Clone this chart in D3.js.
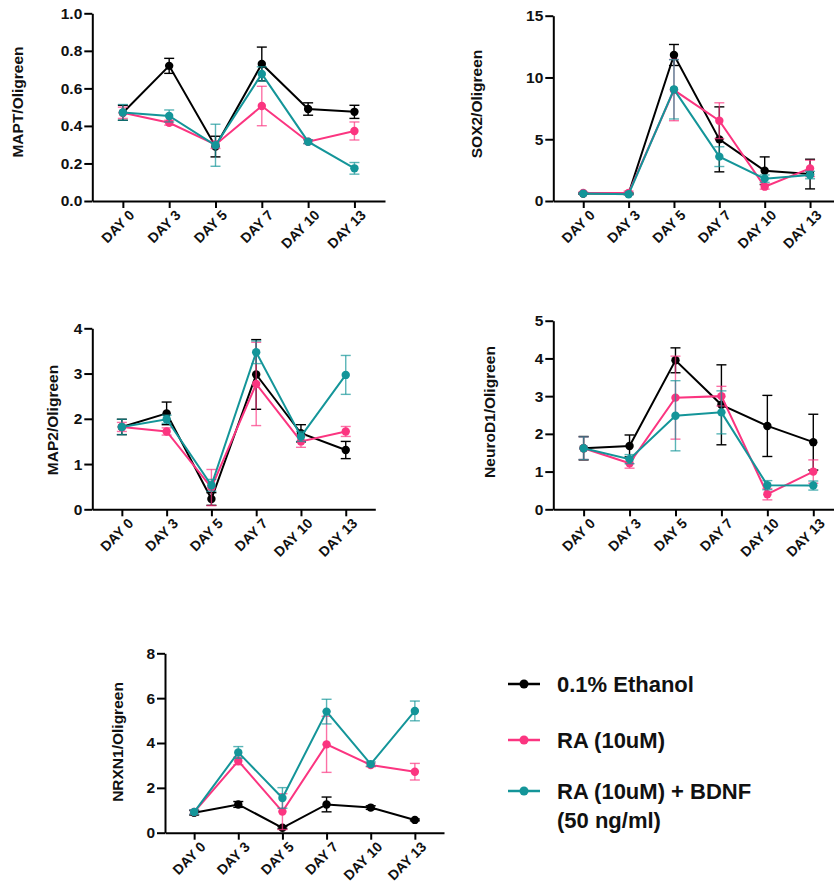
<!DOCTYPE html>
<html>
<head>
<meta charset="utf-8">
<script src="https://cdn.jsdelivr.net/npm/d3@7"></script>
<style>
  body { margin: 0; background: #fff; }
  svg { font-family: "Liberation Sans", Arial, sans-serif; font-weight: bold; }
</style>
</head>
<body>
<svg id="chart" width="834" height="883"></svg>
<script>
// days sampled
const days = ["DAY 0", "DAY 3", "DAY 5", "DAY 7", "DAY 10", "DAY 13"];
const seriesNames = ["0.1% Ethanol", "RA (10uM)", "RA (10uM) + BDNF"];

// MAPT
const maptEth = [0.47, 0.72, 0.29, 0.73, 0.49, 0.475];
const maptEthErr = [0.04, 0.04, 0.055, 0.09, 0.033, 0.035];
const maptRA = [0.47, 0.417, 0.30, 0.506, 0.316, 0.373];
const maptRAErr = [0.03, 0.013, 0.02, 0.105, 0.01, 0.048];
const maptBDNF = [0.472, 0.453, 0.297, 0.677, 0.316, 0.174];
const maptBDNFErr = [0.042, 0.032, 0.112, 0.038, 0.01, 0.031];

// SOX2
const sox2Eth = [0.6, 0.6, 11.82, 4.99, 2.45, 2.18];
const sox2EthErr = [0.05, 0.05, 0.85, 2.63, 1.12, 1.2];
const sox2RA = [0.65, 0.65, 8.98, 6.5, 1.16, 2.64];
const sox2RAErr = [0.08, 0.15, 2.48, 1.45, 0.2, 0.66];
const sox2BDNF = [0.6, 0.55, 9.04, 3.59, 1.81, 2.1];
const sox2BDNFErr = [0.05, 0.05, 2.4, 0.8, 0.3, 0.3];

// MAP2
const map2Eth = [1.82, 2.12, 0.228, 2.98, 1.68, 1.31];
const map2EthErr = [0.17, 0.25, 0.14, 0.77, 0.19, 0.19];
const map2RA = [1.82, 1.72, 0.48, 2.77, 1.5, 1.72];
const map2RAErr = [0.1, 0.08, 0.4, 0.92, 0.13, 0.11];
const map2BDNF = [1.82, 1.99, 0.53, 3.47, 1.61, 2.97];
const map2BDNFErr = [0.17, 0.09, 0.13, 0.25, 0.11, 0.43];

// NeuroD1
const neuroEth = [1.62, 1.68, 3.95, 2.77, 2.21, 1.78];
const neuroEthErr = [0.31, 0.29, 0.33, 1.06, 0.81, 0.74];
const neuroRA = [1.62, 1.22, 2.96, 3.0, 0.40, 1.0];
const neuroRAErr = [0.3, 0.13, 1.1, 0.26, 0.15, 0.31];
const neuroBDNF = [1.62, 1.33, 2.48, 2.57, 0.64, 0.63];
const neuroBDNFErr = [0.3, 0.12, 0.93, 0.57, 0.12, 0.12];

// NRXN1
const nrxnEth = [0.89, 1.26, 0.22, 1.26, 1.12, 0.57];
const nrxnEthErr = [0.1, 0.13, 0.05, 0.33, 0.08, 0.04];
const nrxnRA = [0.92, 3.2, 0.94, 3.94, 3.02, 2.72];
const nrxnRAErr = [0.1, 0.17, 0.8, 1.25, 0.08, 0.37];
const nrxnBDNF = [0.92, 3.58, 1.55, 5.4, 3.06, 5.43];
const nrxnBDNFErr = [0.1, 0.26, 0.46, 0.55, 0.1, 0.44];

const colors = ["#000000", "#fb3580", "#149599"];

const svg = d3.select("#chart");

// panel layout (pixel boxes)
const panels = [
  { label: "MAPT/Oligreen", x0: 92.3, x1: 385, yTop: 13.3, yBot: 201, max: 1, ticks: [0, 0.2, 0.4, 0.6, 0.8, 1.0], fmt: d3.format(".1f"), lx: 18, ly: 102,
    means: [maptEth, maptRA, maptBDNF], errs: [maptEthErr, maptRAErr, maptBDNFErr] },
  { label: "SOX2/Oligreen", x0: 553.3, x1: 840, yTop: 15.7, yBot: 201, max: 15, ticks: [0, 5, 10, 15], fmt: d3.format("d"), lx: 477, ly: 104,
    means: [sox2Eth, sox2RA, sox2BDNF], errs: [sox2EthErr, sox2RAErr, sox2BDNFErr] },
  { label: "MAP2/Oligreen", x0: 92.3, x1: 375.3, yTop: 328.3, yBot: 509.3, max: 4, ticks: [0, 1, 2, 3, 4], fmt: d3.format("d"), lx: 53, ly: 420,
    means: [map2Eth, map2RA, map2BDNF], errs: [map2EthErr, map2RAErr, map2BDNFErr] },
  { label: "NeuroD1/Oligreen", x0: 553.3, x1: 843.6, yTop: 320.7, yBot: 509.3, max: 5, ticks: [0, 1, 2, 3, 4, 5], fmt: d3.format("d"), lx: 490, ly: 412,
    means: [neuroEth, neuroRA, neuroBDNF], errs: [neuroEthErr, neuroRAErr, neuroBDNFErr] },
  { label: "NRXN1/Oligreen", x0: 165, x1: 444, yTop: 653.3, yBot: 832.7, max: 8, ticks: [0, 2, 4, 6, 8], fmt: d3.format("d"), lx: 118, ly: 742,
    means: [nrxnEth, nrxnRA, nrxnBDNF], errs: [nrxnEthErr, nrxnRAErr, nrxnBDNFErr] }
];

panels.forEach(p => {
  const x = d3.scalePoint().domain(days).range([p.x0, p.x1]).padding(0.66);
  const y = d3.scaleLinear().domain([0, p.max]).range([p.yBot, p.yTop]);
  const g = svg.append("g");

  // y axis
  const yAxis = g.append("g")
    .attr("transform", `translate(${p.x0},0)`)
    .call(d3.axisLeft(y).tickValues(p.ticks).tickFormat(p.fmt).tickSize(8).tickSizeOuter(0));
  yAxis.attr("font-family", null).attr("font-size", 15.5);
  yAxis.selectAll("text").attr("x", -10).attr("fill", "#111");

  // x axis
  const xAxis = g.append("g")
    .attr("transform", `translate(0,${p.yBot})`)
    .call(d3.axisBottom(x).tickSize(7).tickSizeOuter(0));
  xAxis.attr("font-family", null).attr("font-size", 14);
  xAxis.selectAll("text")
    .attr("fill", "#111")
    .attr("text-anchor", "end")
    .attr("transform", "translate(5,8) rotate(-45)")
    .attr("dy", "0.7em").attr("y", 0).attr("x", 0);

  g.selectAll(".domain, .tick line").attr("stroke", "#000").attr("stroke-width", 2);

  // y label
  g.append("text")
    .attr("transform", `translate(${p.lx},${p.ly}) rotate(-90)`)
    .attr("text-anchor", "middle")
    .attr("dy", "0.35em")
    .attr("font-size", 15.5)
    .attr("fill", "#111")
    .text(p.label);

  const line = d3.line().x((d, i) => x(days[i])).y(d => y(d));

  p.means.forEach((vals, s) => {
    const errs = p.errs[s];
    const sg = g.append("g");
    const alpha = s === 0 ? 1 : 0.7;

    // error bars
    const eb = sg.selectAll(".eb").data(vals).enter().append("g");
    eb.append("line")
      .attr("x1", (d, i) => x(days[i])).attr("x2", (d, i) => x(days[i]))
      .attr("y1", (d, i) => y(d - errs[i])).attr("y2", (d, i) => y(d + errs[i]));
    eb.append("line")
      .attr("x1", (d, i) => x(days[i]) - 5).attr("x2", (d, i) => x(days[i]) + 5)
      .attr("y1", (d, i) => y(d + errs[i])).attr("y2", (d, i) => y(d + errs[i]));
    eb.append("line")
      .attr("x1", (d, i) => x(days[i]) - 5).attr("x2", (d, i) => x(days[i]) + 5)
      .attr("y1", (d, i) => y(d - errs[i])).attr("y2", (d, i) => y(d - errs[i]));
    eb.selectAll("line").attr("stroke", colors[s]).attr("stroke-width", 1.4).attr("stroke-opacity", alpha);

    sg.append("path")
      .attr("d", line(vals))
      .attr("fill", "none")
      .attr("stroke", colors[s])
      .attr("stroke-width", 2);

    sg.selectAll("circle").data(vals).enter().append("circle")
      .attr("cx", (d, i) => x(days[i]))
      .attr("cy", d => y(d))
      .attr("r", 4.2)
      .attr("fill", colors[s]);
  });
});

// legend
const legendY = [684, 740, 791];
const legend = svg.append("g");
seriesNames.forEach((name, i) => {
  legend.append("line")
    .attr("x1", 508).attr("x2", 540)
    .attr("y1", legendY[i]).attr("y2", legendY[i])
    .attr("stroke", colors[i]).attr("stroke-width", 2.5);
  legend.append("circle")
    .attr("cx", 524).attr("cy", legendY[i]).attr("r", 4.5)
    .attr("fill", colors[i]);
  legend.append("text")
    .attr("x", 557).attr("y", legendY[i] + 8)
    .attr("font-size", 22)
    .attr("fill", "#111")
    .text(name);
});
legend.append("text")
  .attr("x", 557).attr("y", legendY[2] + 37)
  .attr("font-size", 22)
  .attr("fill", "#111")
  .text("(50 ng/ml)");
</script>
</body>
</html>
